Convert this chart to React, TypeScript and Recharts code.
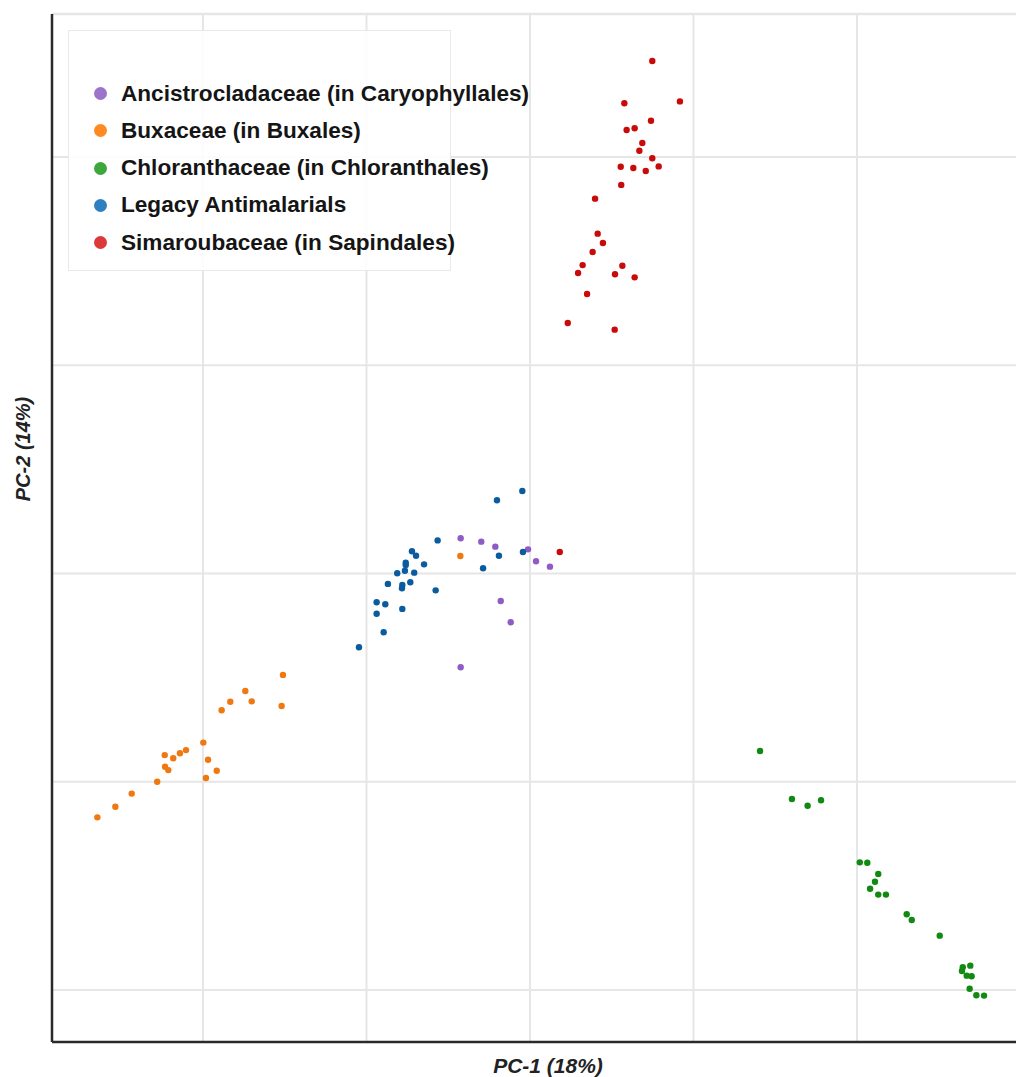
import React from "react";
import {
  ScatterChart,
  Scatter,
  XAxis,
  YAxis,
  Legend,
  ReferenceLine,
} from "recharts";

// ---- data (PCA scores, in grid units) ----
const seriesNames = [
  "Ancistrocladaceae (in Caryophyllales)",
  "Buxaceae (in Buxales)",
  "Chloranthaceae (in Chloranthales)",
  "Legacy Antimalarials",
  "Simaroubaceae (in Sapindales)",
];

const ancistrocladaceae = [
  { x: 2.576, y: 2.169 }, { x: 2.702, y: 2.153 }, { x: 2.788, y: 2.129 },
  { x: 2.988, y: 2.116 }, { x: 3.037, y: 2.059 }, { x: 3.122, y: 2.033 },
  { x: 2.821, y: 1.868 }, { x: 2.882, y: 1.766 }, { x: 2.576, y: 1.55 },
];

const buxaceae = [
  { x: 2.574, y: 2.084 }, { x: 1.489, y: 1.513 }, { x: 1.259, y: 1.436 },
  { x: 1.167, y: 1.384 }, { x: 1.298, y: 1.386 }, { x: 1.481, y: 1.364 },
  { x: 1.114, y: 1.343 }, { x: 1.002, y: 1.188 }, { x: 0.896, y: 1.152 },
  { x: 0.859, y: 1.137 }, { x: 0.766, y: 1.128 }, { x: 0.818, y: 1.113 },
  { x: 1.031, y: 1.106 }, { x: 0.768, y: 1.072 }, { x: 0.788, y: 1.056 },
  { x: 1.084, y: 1.053 }, { x: 1.018, y: 1.018 }, { x: 0.72, y: 1.0 },
  { x: 0.564, y: 0.943 }, { x: 0.464, y: 0.88 }, { x: 0.354, y: 0.829 },
];

const chloranthaceae = [
  { x: 4.407, y: 1.148 }, { x: 4.602, y: 0.917 }, { x: 4.698, y: 0.885 },
  { x: 4.78, y: 0.911 }, { x: 5.017, y: 0.613 }, { x: 5.063, y: 0.611 },
  { x: 5.13, y: 0.557 }, { x: 5.11, y: 0.52 }, { x: 5.08, y: 0.486 },
  { x: 5.13, y: 0.458 }, { x: 5.177, y: 0.458 }, { x: 5.304, y: 0.364 },
  { x: 5.335, y: 0.336 }, { x: 5.506, y: 0.261 }, { x: 5.647, y: 0.109 },
  { x: 5.693, y: 0.117 }, { x: 5.642, y: 0.091 }, { x: 5.671, y: 0.069 },
  { x: 5.701, y: 0.066 }, { x: 5.689, y: 0.006 }, { x: 5.73, y: -0.025 },
  { x: 5.777, y: -0.027 },
];

const legacyAntimalarials = [
  { x: 2.953, y: 2.396 }, { x: 2.798, y: 2.352 }, { x: 2.435, y: 2.159 },
  { x: 2.278, y: 2.107 }, { x: 2.303, y: 2.085 }, { x: 2.957, y: 2.103 },
  { x: 2.81, y: 2.085 }, { x: 2.24, y: 2.052 }, { x: 2.24, y: 2.041 },
  { x: 2.352, y: 2.044 }, { x: 2.713, y: 2.025 }, { x: 2.235, y: 2.013 },
  { x: 2.188, y: 2.001 }, { x: 2.292, y: 2.004 }, { x: 2.131, y: 1.95 },
  { x: 2.219, y: 1.945 }, { x: 2.268, y: 1.958 }, { x: 2.217, y: 1.929 },
  { x: 2.423, y: 1.919 }, { x: 2.062, y: 1.862 }, { x: 2.115, y: 1.852 },
  { x: 2.062, y: 1.807 }, { x: 2.219, y: 1.83 }, { x: 2.105, y: 1.718 },
  { x: 1.954, y: 1.646 },
];

const simaroubaceae = [
  { x: 3.748, y: 4.461 }, { x: 3.577, y: 4.258 }, { x: 3.917, y: 4.267 },
  { x: 3.74, y: 4.174 }, { x: 3.591, y: 4.13 }, { x: 3.64, y: 4.138 },
  { x: 3.687, y: 4.067 }, { x: 3.669, y: 4.03 }, { x: 3.748, y: 3.994 },
  { x: 3.555, y: 3.953 }, { x: 3.632, y: 3.947 }, { x: 3.708, y: 3.933 },
  { x: 3.787, y: 3.955 }, { x: 3.558, y: 3.866 }, { x: 3.398, y: 3.8 },
  { x: 3.414, y: 3.632 }, { x: 3.446, y: 3.587 }, { x: 3.383, y: 3.544 },
  { x: 3.322, y: 3.481 }, { x: 3.565, y: 3.478 }, { x: 3.294, y: 3.443 },
  { x: 3.52, y: 3.437 }, { x: 3.64, y: 3.422 }, { x: 3.349, y: 3.342 },
  { x: 3.231, y: 3.203 }, { x: 3.518, y: 3.171 }, { x: 3.182, y: 2.103 },
];

const xTicks = [1, 2, 3, 4, 5];
const yTicks = [0, 1, 2, 3, 4];
const xDomain = [0.0765, 5.9725];
const yDomain = [-0.2497, 4.6867];

// ---- styles ----
const pointColors = ["#8e5cc4", "#f07810", "#108a10", "#0a5c9e", "#c80a0a"];
const legendColors = ["#9d74cc", "#ff8a22", "#3ca83c", "#2f80c0", "#dc3a3a"];
const seriesData = [
  ancistrocladaceae,
  buxaceae,
  chloranthaceae,
  legacyAntimalarials,
  simaroubaceae,
];

const FONT = "'Liberation Sans', Arial, Helvetica, sans-serif";
const GRID = "#e6e6e6";

const makeDot = (color: string) => (props: any) => (
  <circle cx={props.cx} cy={props.cy} r={3.2} fill={color} />
);

const LegendBox = () => (
  <div
    style={{
      width: 383,
      height: 241,
      border: "1px solid #e9e9e9",
      boxSizing: "border-box",
      background: "rgba(255,255,255,0.85)",
      paddingTop: 44,
      fontFamily: FONT,
      textAlign: "left",
    }}
  >
    {seriesNames.map((n, i) => (
      <div
        key={n}
        style={{
          height: 37.25,
          display: "flex",
          alignItems: "center",
          whiteSpace: "nowrap",
        }}
      >
        <span
          style={{
            display: "inline-block",
            flex: "0 0 13px",
            width: 13,
            height: 13,
            borderRadius: "50%",
            background: legendColors[i],
            marginLeft: 25,
            marginRight: 14,
          }}
        />
        <span style={{ fontSize: 22.6, fontWeight: "bold", color: "#151515" }}>
          {n}
        </span>
      </div>
    ))}
  </div>
);

const XLabel = () => (
  <text
    x={548}
    y={1073}
    textAnchor="middle"
    fontFamily={FONT}
    fontStyle="italic"
    fontWeight="bold"
    fontSize={21}
    fill="#222"
  >
    PC-1 (18%)
  </text>
);

const YLabel = () => (
  <text
    x={30}
    y={449}
    transform="rotate(-90 30 449)"
    textAnchor="middle"
    fontFamily={FONT}
    fontStyle="italic"
    fontWeight="bold"
    fontSize={20}
    fill="#222"
  >
    PC-2 (14%)
  </text>
);

export default function App() {
  return (
    <div style={{ position: "absolute", left: 0, top: 0, background: "#fff" }}>
      <ScatterChart
        width={1016}
        height={1077}
        margin={{ top: 14, right: 0, left: 51, bottom: 34 }}
      >
        {xTicks.map((t) => (
          <ReferenceLine key={"vx" + t} x={t} stroke={GRID} strokeWidth={2} />
        ))}
        {yTicks.map((t) => (
          <ReferenceLine key={"hy" + t} y={t} stroke={GRID} strokeWidth={2} />
        ))}
        <ReferenceLine y={yDomain[1]} stroke={GRID} strokeWidth={2.5} />
        <XAxis
          type="number"
          dataKey="x"
          domain={xDomain}
          ticks={xTicks}
          allowDataOverflow
          tick={false}
          tickLine={false}
          height={1}
          axisLine={{ stroke: "#2a2a2a", strokeWidth: 2.5 }}
          label={{ content: <XLabel /> }}
        />
        <YAxis
          type="number"
          dataKey="y"
          domain={yDomain}
          ticks={yTicks}
          allowDataOverflow
          tick={false}
          tickLine={false}
          width={1}
          axisLine={{ stroke: "#2a2a2a", strokeWidth: 2.5 }}
          label={{ content: <YLabel /> }}
        />
        <Legend
          layout="horizontal"
          verticalAlign="middle"
          align="center"
          content={<LegendBox />}
          wrapperStyle={{
            position: "absolute",
            left: 68,
            top: 30,
            width: 384,
            height: 242,
          }}
        />
        {seriesData.map((d, i) => (
          <Scatter
            key={seriesNames[i]}
            name={seriesNames[i]}
            data={d}
            fill={pointColors[i]}
            shape={makeDot(pointColors[i])}
            isAnimationActive={false}
          />
        ))}
      </ScatterChart>
    </div>
  );
}
